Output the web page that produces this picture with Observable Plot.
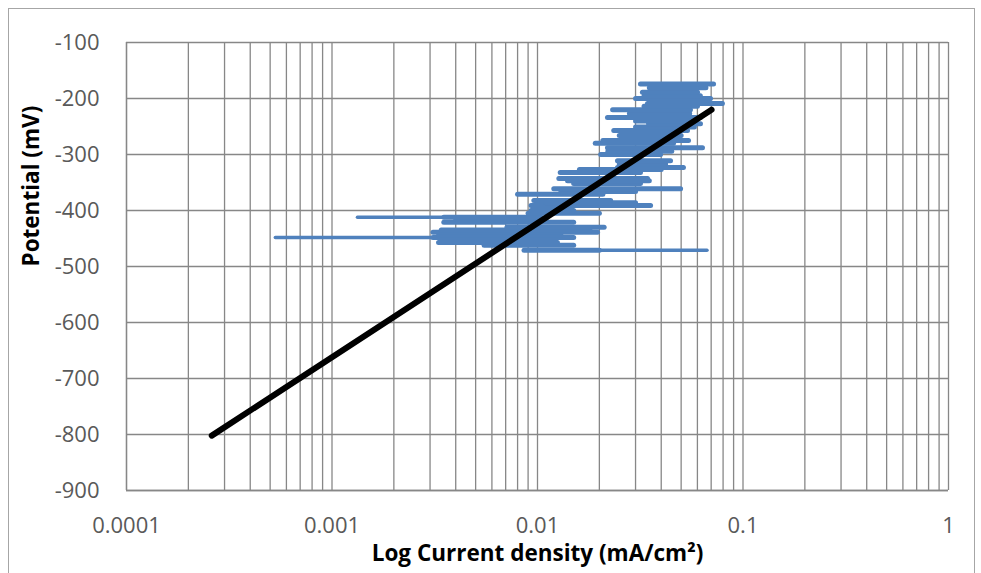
<!DOCTYPE html>
<html>
<head>
<meta charset="utf-8">
<script src="https://cdn.jsdelivr.net/npm/d3@7"></script>
<script src="https://cdn.jsdelivr.net/npm/@observablehq/plot@0.6"></script>
<style>
  html, body { margin: 0; padding: 0; background: #fff; }
</style>
</head>
<body>
<div id="chart"></div>
<script>
// Polarization curve: horizontal noise strokes (potential level, left and right current extent)
const strokePotential = [-471, -462, -457, -448, -444, -439, -435, -430, -421, -416, -412, -405, -400, -391, -386, -382, -371, -366, -361, -352, -347, -343, -332, -327, -323, -317, -311, -300, -294, -288, -280, -275, -266, -257, -251, -245, -240, -234, -227, -220, -214, -209, -200, -195, -189, -181, -174];
const strokeLeft = [0.0086, 0.0055, 0.0033, 0.0031, 0.0033, 0.0031, 0.0034, 0.0071, 0.0035, 0.0040, 0.0035, 0.0090, 0.0093, 0.0093, 0.0110, 0.0096, 0.0080, 0.0130, 0.0120, 0.0150, 0.0140, 0.0127, 0.0129, 0.0160, 0.0245, 0.0250, 0.0245, 0.0203, 0.0220, 0.0219, 0.0191, 0.0208, 0.0250, 0.0235, 0.0300, 0.0347, 0.0300, 0.0219, 0.0280, 0.0232, 0.0330, 0.0343, 0.0300, 0.0330, 0.0324, 0.0350, 0.0317];
const strokeRight = [0.0200, 0.0150, 0.0125, 0.0150, 0.0130, 0.0196, 0.0180, 0.0211, 0.0150, 0.0110, 0.0104, 0.0200, 0.0150, 0.0355, 0.0300, 0.0227, 0.0208, 0.0300, 0.0497, 0.0317, 0.0350, 0.0343, 0.0317, 0.0400, 0.0513, 0.0420, 0.0444, 0.0397, 0.0450, 0.0635, 0.0459, 0.0543, 0.0500, 0.0537, 0.0580, 0.0621, 0.0550, 0.0621, 0.0550, 0.0555, 0.0600, 0.0794, 0.0695, 0.0620, 0.0601, 0.0660, 0.0719];

// Single (thin) excursions of the curve
const tailPotential = [-471, -448, -412];
const tailLeft = [0.0200, 0.00053, 0.00133];
const tailRight = [0.0668, 0.0031, 0.0035];

// Tafel fit line
const tafelCurrent = [0.00026, 0.0703];
const tafelPotential = [-802, -220];

// Ticks
const xTicks = [0.0001, 0.001, 0.01, 0.1, 1];
const xTickLabels = ["0.0001", "0.001", "0.01", "0.1", "1"];
const yTicks = [-900, -800, -700, -600, -500, -400, -300, -200, -100];
const xTitle = "Log Current density (mA/cm²)";
const yTitle = "Potential (mV)";

// Build strokes tables (each stroke a horizontal segment)
const curve = [];
strokePotential.forEach((p, i) => {
  curve.push({x: strokeLeft[i], y: p, s: i}, {x: strokeRight[i], y: p, s: i});
});
const tails = [];
tailPotential.forEach((p, i) => {
  tails.push({x: tailLeft[i], y: p, s: i}, {x: tailRight[i], y: p, s: i});
});
const tafel = tafelCurrent.map((c, i) => ({x: c, y: tafelPotential[i]}));

// Log grid positions
const xGrid = [];
for (let e = -4; e < 0; e++) for (let k = 1; k <= 9; k++) xGrid.push(k * Math.pow(10, e));
xGrid.push(1);

const gridColor = "#878787";
const blue = "#4f81bd";
const font = "'Open Sans', 'Liberation Sans', sans-serif";

const chart = Plot.plot({
  width: 981,
  height: 573,
  marginLeft: 126,
  marginRight: 33,
  marginTop: 42,
  marginBottom: 83,
  style: {fontFamily: font, fontSize: "22px", background: "#fff", overflow: "visible"},
  x: {type: "log", domain: [0.0001, 1]},
  y: {domain: [-900, -100]},
  marks: [
    Plot.gridX(xGrid, {stroke: gridColor, strokeOpacity: 1, strokeWidth: 1.3}),
    Plot.gridY(yTicks, {stroke: gridColor, strokeOpacity: 1, strokeWidth: 1.3}),
    Plot.ruleX([0.0001], {stroke: gridColor, strokeWidth: 1.3}),
    Plot.ruleY([-900], {stroke: gridColor, strokeWidth: 1.3}),
    Plot.axisX(xTicks, {tickSize: 0, tickPadding: 27, fontSize: 22, fill: "#595959", label: null, tickFormat: (d) => xTickLabels[xTicks.indexOf(d)]}),
    Plot.axisY(yTicks, {tickSize: 0, tickPadding: 27, fontSize: 22, fill: "#595959", label: null, tickFormat: d => String(d)}),
    Plot.line(tails, {x: "x", y: "y", z: "s", stroke: blue, strokeWidth: 3.5, strokeLinecap: "round"}),
    Plot.line(curve, {x: "x", y: "y", z: "s", stroke: blue, strokeWidth: 5, strokeLinecap: "round"}),
    Plot.line(tafel, {x: "x", y: "y", stroke: "#000", strokeWidth: 6}),
    Plot.text([xTitle], {frameAnchor: "bottom", dy: 70, fontSize: 22.5, fontWeight: "bold", fill: "#000"}),
    Plot.text([yTitle], {frameAnchor: "left", dx: -95, rotate: -90, fontSize: 22.5, fontWeight: "bold", fill: "#000"})
  ]
});

d3.select(chart).append("rect")
  .attr("x", 8.5).attr("y", 8.5).attr("width", 966).attr("height", 600)
  .attr("fill", "none").attr("stroke", "#a6a6a6").attr("stroke-width", 1);

document.getElementById("chart").appendChild(chart);
</script>
</body>
</html>
